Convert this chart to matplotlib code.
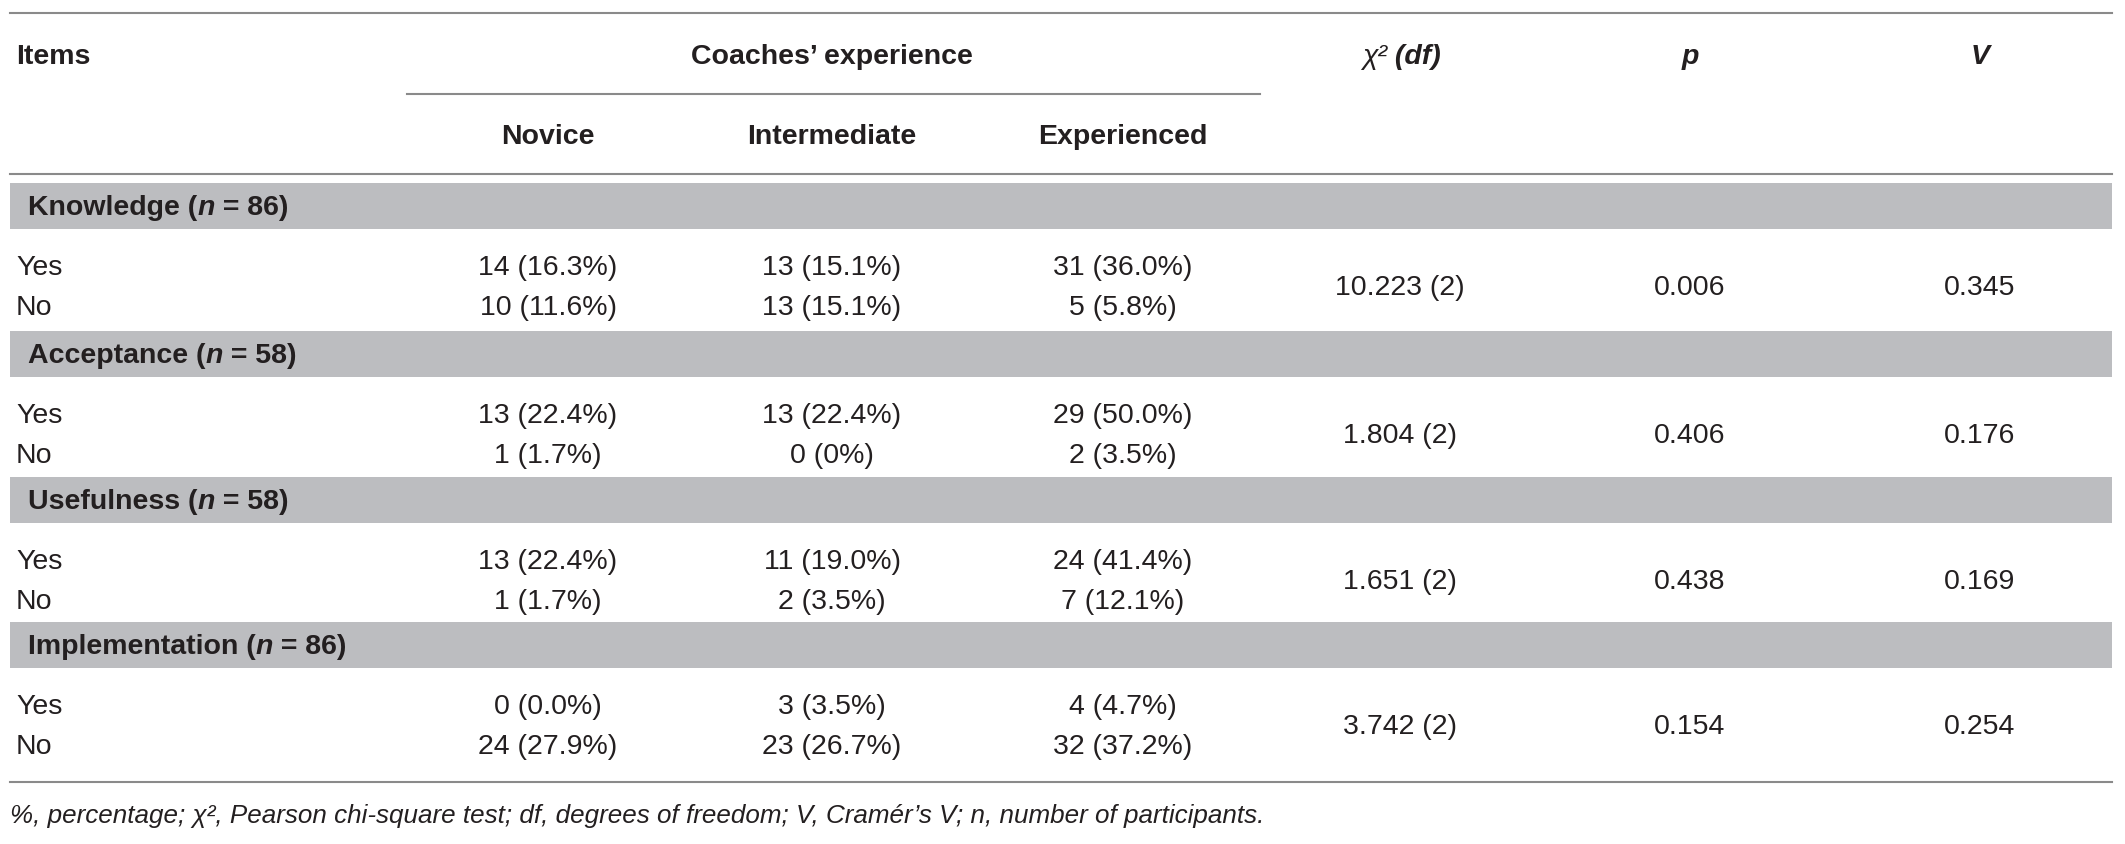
import matplotlib
matplotlib.use("Agg")
import matplotlib.pyplot as plt

plt.rcParams['font.family'] = ['Liberation Sans', 'DejaVu Sans']

# table content
items = ["Knowledge", "Acceptance", "Usefulness", "Implementation"]
n_vals = [86, 58, 58, 86]
groups = ["Novice", "Intermediate", "Experienced"]
novice_yes = ["14 (16.3%)", "13 (22.4%)", "13 (22.4%)", "0 (0.0%)"]
novice_no = ["10 (11.6%)", "1 (1.7%)", "1 (1.7%)", "24 (27.9%)"]
inter_yes = ["13 (15.1%)", "13 (22.4%)", "11 (19.0%)", "3 (3.5%)"]
inter_no = ["13 (15.1%)", "0 (0%)", "2 (3.5%)", "23 (26.7%)"]
exp_yes = ["31 (36.0%)", "29 (50.0%)", "24 (41.4%)", "4 (4.7%)"]
exp_no = ["5 (5.8%)", "2 (3.5%)", "7 (12.1%)", "32 (37.2%)"]
chi2_df = ["10.223 (2)", "1.804 (2)", "1.651 (2)", "3.742 (2)"]
p_vals = ["0.006", "0.406", "0.438", "0.154"]
v_vals = ["0.345", "0.176", "0.169", "0.254"]
footnote = ("%, percentage; \u03c7\u00b2, Pearson chi-square test; df, degrees of freedom; "
            "V, Cram\u00e9r\u2019s V; n, number of participants.")

TXT = "#231f20"
LINE = "#8a8a8a"
BAND = "#bcbdc0"
FS = 20.5

fig = plt.figure(figsize=(21.25, 8.45), dpi=100)
ax = fig.add_axes([0, 0, 1, 1])
ax.set_xlim(0, 2125)
ax.set_ylim(845, 0)
ax.axis("off")


def rich(x, y, parts, size=FS):
    # parts: (text, weight, style) drawn one after another
    t = None
    for s, w, st in parts:
        if t is None:
            t = ax.text(x, y, s, fontsize=size, fontweight=w, fontstyle=st,
                        color=TXT, va="center", ha="left")
        else:
            t = ax.annotate(s, xy=(1, 0), xycoords=t, va="bottom", ha="left",
                            fontsize=size, fontweight=w, fontstyle=st, color=TXT)
    return t


x_left, x_right = 10, 2112
col_x = [548, 832, 1123]
chi_x, p_x, v_x = 1400, 1690, 1980

# header
ax.plot([x_left, x_right], [14, 14], color=LINE, lw=1.5)
ax.text(16, 57, "Items", fontsize=FS, fontweight="bold", color=TXT, va="center")
ax.text(col_x[1], 57, "Coaches\u2019 experience", fontsize=FS, fontweight="bold",
        color=TXT, va="center", ha="center")
ax.plot([407, 1260], [95, 95], color=LINE, lw=1.5)
for g, x in zip(groups, col_x):
    ax.text(x, 137, g, fontsize=FS, fontweight="bold", color=TXT, va="center", ha="center")
rich(1362, 57, [("\u03c7\u00b2", "normal", "italic"), (" (df)", "bold", "italic")])
ax.text(p_x, 57, "p", fontsize=FS, fontweight="bold", fontstyle="italic",
        color=TXT, va="center", ha="center")
ax.text(v_x, 57, "V", fontsize=FS, fontweight="bold", fontstyle="italic",
        color=TXT, va="center", ha="center")
ax.plot([x_left, x_right], [175, 175], color=LINE, lw=1.5)

band_tops = [184, 332, 478, 623]
band_h = 46
for i, item in enumerate(items):
    top = band_tops[i]
    ax.fill_between([x_left, x_right], top, top + band_h, color=BAND, lw=0)
    rich(28, top + band_h / 2 + 1,
         [(item + " (", "bold", "normal"), ("n", "bold", "italic"),
          (" = %d)" % n_vals[i], "bold", "normal")])
    y_yes = top + 84
    y_no = top + 124
    y_mid = (y_yes + y_no) / 2
    ax.text(16, y_yes, "Yes", fontsize=FS, color=TXT, va="center")
    ax.text(16, y_no, "No", fontsize=FS, color=TXT, va="center")
    for x, yes, no in zip(col_x, [novice_yes, inter_yes, exp_yes],
                          [novice_no, inter_no, exp_no]):
        ax.text(x, y_yes, yes[i], fontsize=FS, color=TXT, va="center", ha="center")
        ax.text(x, y_no, no[i], fontsize=FS, color=TXT, va="center", ha="center")
    ax.text(chi_x, y_mid, chi2_df[i], fontsize=FS, color=TXT, va="center", ha="center")
    ax.text(p_x, y_mid, p_vals[i], fontsize=FS, color=TXT, va="center", ha="center")
    ax.text(v_x, y_mid, v_vals[i], fontsize=FS, color=TXT, va="center", ha="center")

ax.plot([x_left, x_right], [783, 783], color=LINE, lw=1.5)
ax.text(10, 816, footnote, fontsize=18.7, fontstyle="italic", color=TXT, va="center")

fig.savefig("out.png", dpi=100)
